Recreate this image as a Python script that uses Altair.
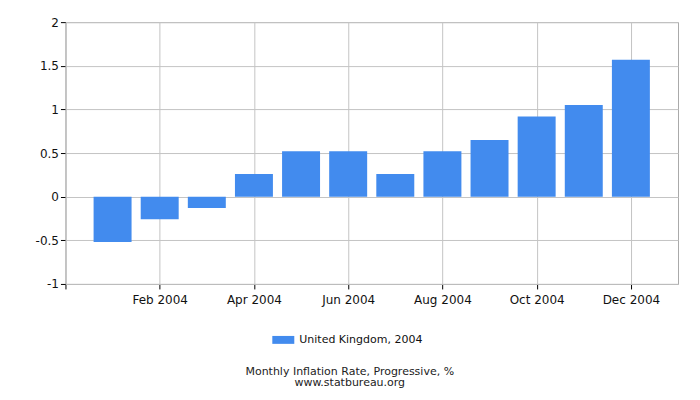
import altair as alt
import pandas as pd

month_index = [1, 2, 3, 4, 5, 6, 7, 8, 9, 10, 11, 12]
values = [-0.52, -0.26, -0.13, 0.26, 0.52, 0.52, 0.26, 0.52, 0.65, 0.92, 1.05, 1.57]
series_name = "United Kingdom, 2004"
tick_positions = [0, 2, 4, 6, 8, 10, 12]
tick_labels = ["", "Feb 2004", "Apr 2004", "Jun 2004", "Aug 2004", "Oct 2004", "Dec 2004"]
y_ticks = [-1, -0.5, 0, 0.5, 1, 1.5, 2]

df = pd.DataFrame({"m": month_index, "v": values, "s": [series_name] * len(values)})

label_map = "{" + ",".join(f"'{p}':'{l}'" for p, l in zip(tick_positions, tick_labels)) + "}"
label_expr = f"({label_map})[toString(datum.value)]"

FONT = "DejaVu Sans"

chart = alt.Chart(df).mark_bar(size=38).encode(
    x=alt.X("m:Q", scale=alt.Scale(domain=[0, 13], nice=False, zero=False, padding=0),
            axis=alt.Axis(values=tick_positions, labelExpr=label_expr, title=None,
                          grid=True, gridColor="#c4c4c4", tickColor="#000", tickSize=5,
                          domainColor="#bdbdbd", labelFontSize=12, labelFont=FONT,
                          labelColor="#111", labelPadding=6, labelFlush=False)),
    y=alt.Y("v:Q", scale=alt.Scale(domain=[-1, 2], nice=False, padding=0),
            axis=alt.Axis(values=y_ticks, labelExpr="toString(datum.value)", title=None,
                          grid=True, gridColor="#c4c4c4", tickColor="#000", tickSize=5,
                          domainColor="#bdbdbd", labelFontSize=12, labelFont=FONT,
                          labelColor="#111", labelPadding=2)),
    color=alt.Color("s:N", scale=alt.Scale(range=["#428bee"]),
                    legend=alt.Legend(title=None, orient="none", legendX=207, legendY=307,
                                      symbolType="M-1,-0.36h2v0.72h-2z", symbolSize=484,
                                      symbolStrokeWidth=0, labelFont=FONT, labelFontSize=11,
                                      labelColor="#111", padding=0, labelOffset=5)),
).properties(
    width=613,
    height=262,
    autosize=alt.AutoSizeParams(type="none"),
    padding={"left": 57.5, "top": 14, "right": 14, "bottom": 110},
    title=alt.TitleParams(
        text="Monthly Inflation Rate, Progressive, %",
        subtitle="www.statbureau.org",
        orient="bottom", anchor="middle", dx=-22, offset=21,
        font=FONT, fontSize=11, fontWeight="normal", color="#222",
        subtitleFont=FONT, subtitleFontSize=11, subtitleColor="#222", subtitlePadding=0,
    ),
).configure_view(stroke="#aaaaaa", strokeWidth=1)

chart.save("out.html", embed_options={"renderer": "svg", "actions": False})
